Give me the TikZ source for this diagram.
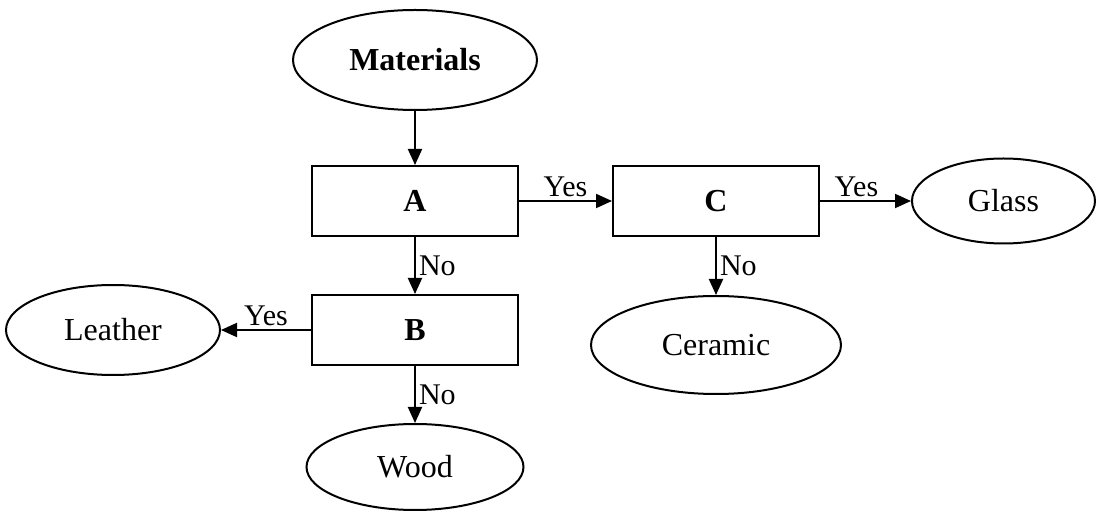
\documentclass[tikz,border=0pt]{standalone}
\usepackage{fontspec}
\setmainfont{Liberation Serif}
\usepackage{tikz}
\usetikzlibrary{shapes,arrows.meta,positioning}

\begin{document}
\begin{tikzpicture}[
    node distance=28pt and 46pt,
    mybox/.style={draw, rectangle, line width=1pt, minimum width=103pt, minimum height=35pt, font=\fontsize{16}{19}\selectfont\bfseries},
    myoval/.style={draw, ellipse, line width=1pt, inner sep=0pt, font=\fontsize{16}{19}\selectfont},
    myedge/.style={-{Triangle[length=8pt,width=7pt]}, line width=1pt},
    mylabel/.style={font=\fontsize{15}{18}\selectfont, inner sep=1.5pt}
]
\useasboundingbox (0,0) rectangle (552.5pt,-256.5pt);
\node[myoval, minimum width=122pt, minimum height=50pt, font=\fontsize{16}{19}\selectfont\bfseries] (M) at (207.5pt,-30pt) {Materials};
\node[mybox] (A) [below=27pt of M] {A};
\node[mybox] (B) [below=28.5pt of A] {B};
\node[mybox] (C) [right=46.5pt of A] {C};
\node[myoval, minimum width=91.5pt, minimum height=42.5pt] (G) [right=45.5pt of C] {Glass};
\node[myoval, minimum width=125pt, minimum height=49pt] (Ce) [below=29pt of C] {Ceramic};
\node[myoval, minimum width=107pt, minimum height=45pt] (L) [left=45pt of B] {Leather};
\node[myoval, minimum width=108.5pt, minimum height=43pt] (W) [below=28.5pt of B] {Wood};

\draw[myedge] (M) -- (A);
\draw[myedge] (A) -- node[mylabel, above] {Yes} (C);
\draw[myedge] (C) -- node[mylabel, above, pos=0.4] {Yes} (G);
\draw[myedge] (A) -- node[mylabel, right] {No} (B);
\draw[myedge] (C) -- node[mylabel, right] {No} (Ce);
\draw[myedge] (B) -- node[mylabel, above] {Yes} (L);
\draw[myedge] (B) -- node[mylabel, right] {No} (W);
\end{tikzpicture}
\end{document}
